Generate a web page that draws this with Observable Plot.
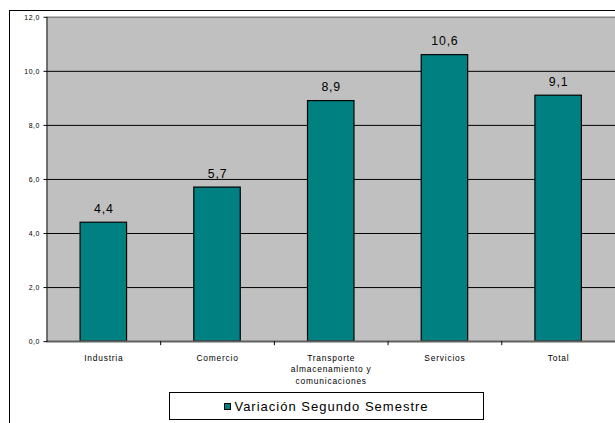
<!DOCTYPE html>
<html>
<head>
<meta charset="utf-8">
<script src="https://cdn.jsdelivr.net/npm/d3@7"></script>
<script src="https://cdn.jsdelivr.net/npm/@observablehq/plot@0.6"></script>
<style>
  html, body { margin: 0; padding: 0; background: #fff; }
  #wrap { position: relative; width: 615px; height: 423px; overflow: hidden; font-family: Arial, "Liberation Sans", sans-serif; }
  #outer { position: absolute; left: 9px; top: 10px; width: 700px; height: 500px; border: 1px solid #000; box-sizing: border-box; }
  #chart { position: absolute; left: 0; top: 0; }
  #chart svg { overflow: visible; }
  #legend { position: absolute; left: 169px; top: 392px; width: 315px; height: 28px; border: 1px solid #000; box-sizing: border-box; background: #fff;
            display: flex; align-items: center; justify-content: center; font-size: 13px; letter-spacing: 1px; color: #000; }
  #legend .sw { display: inline-block; width: 5px; height: 5px; background: #008080; border: 1px solid #000; margin-right: 3px; }
  svg g[aria-label="x-axis tick label"] { letter-spacing: 0.8px; }
  svg g[aria-label="y-axis tick label"] { letter-spacing: 0.6px; }
  svg g[aria-label="text"] { letter-spacing: 0.8px; }
</style>
</head>
<body>
<div id="wrap">
  <div id="outer"></div>
  <div id="chart"></div>
  <div id="legend"><span class="sw"></span><span>Variación Segundo Semestre</span></div>
</div>
<script>
const categories = ["Industria", "Comercio", "Transporte almacenamiento y comunicaciones", "Servicios", "Total"];
const tickLabels = ["Industria", "Comercio", "Transporte\nalmacenamiento y\ncomunicaciones", "Servicios", "Total"];
const values = [4.4, 5.7, 8.9, 10.6, 9.1];
const yTicks = [0, 2, 4, 6, 8, 10, 12];
const gridValues = [2, 4, 6, 8, 10];
const seriesName = "Variación Segundo Semestre";

const data = categories.map((c, i) => ({cat: c, value: values[i]}));
const fmt = v => v.toFixed(1).replace(".", ",");

const W = 622, ML = 47, MR = 0;
const step = (W - ML - MR) / categories.length;

const chart = Plot.plot({
  width: W,
  height: 390,
  marginLeft: ML,
  marginRight: MR,
  marginTop: 17,
  marginBottom: 45,
  style: {fontFamily: "Arial, 'Liberation Sans', sans-serif", background: "transparent", color: "#000"},
  x: {domain: categories, paddingInner: 0.59, paddingOuter: 0.295},
  y: {domain: [0, 12]},
  marks: [
    Plot.frame({fill: "#C0C0C0", stroke: null}),
    Plot.ruleY(gridValues, {stroke: "#000", strokeWidth: 1}),
    Plot.ruleY([12], {stroke: "#808080", strokeWidth: 1.5}),
    Plot.barY(data, {x: "cat", y: "value", fill: "#008080", stroke: "#000", strokeWidth: 1.2}),
    Plot.text(data, {x: "cat", y: "value", text: d => fmt(d.value), dy: -14, fontSize: 12.5, fill: "#000"}),
    Plot.ruleY([0], {stroke: "#606060", strokeWidth: 2}),
    Plot.ruleX(categories.slice(0, categories.length - 1), {x: d => d, dx: step / 2, y1: 0, y2: -0.15, stroke: "#000"}),
    Plot.axisY({ticks: yTicks, tickFormat: fmt, tickSize: 3, tickPadding: 4, fontSize: 7, label: null, stroke: "#000"}),
    Plot.frame({anchor: "left", stroke: "#000"}),
    Plot.axisX({tickSize: 0, tickPadding: 11, fontSize: 8.5, label: null, lineHeight: 1.38,
                tickFormat: d => tickLabels[categories.indexOf(d)]})
  ]
});
document.getElementById("chart").appendChild(chart);
</script>
</body>
</html>
